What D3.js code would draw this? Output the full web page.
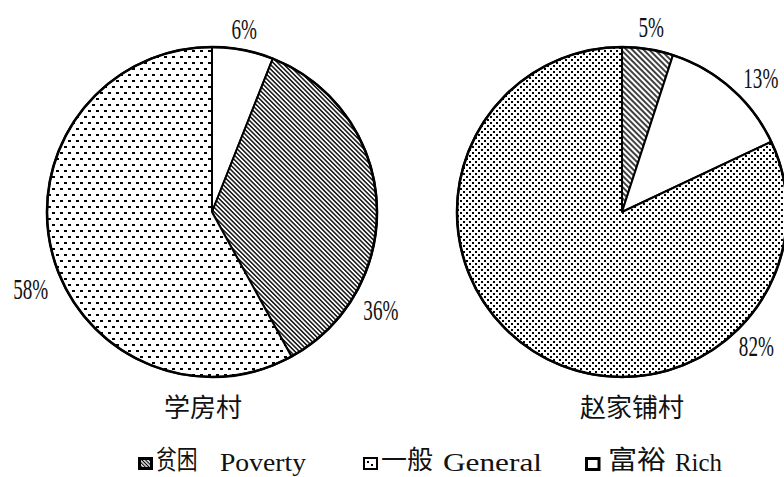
<!DOCTYPE html>
<html>
<head>
<meta charset="utf-8">
<script src="https://cdn.jsdelivr.net/npm/d3@7/dist/d3.min.js"></script>
<style>
  html, body { margin: 0; padding: 0; background: #fff; }
  svg { display: block; }
</style>
</head>
<body>
<svg id="chart" width="784" height="477"></svg>
<script>
// data
const villages = ["学房村", "赵家铺村"];
const categories = ["Poverty", "General", "Rich"];
const categoriesCN = ["贫困", "一般", "富裕"];
// slice order clockwise from 12 o'clock, per village
const xuefangOrder = ["Rich", "Poverty", "General"];
const xuefangValues = [6, 36, 58];
const zhaojiapuOrder = ["Poverty", "Rich", "General"];
const zhaojiapuValues = [5, 13, 82];

// layout
const W = 784, H = 477;
const R = 165;
const centers = [[212, 212], [622, 212]];
// label placement: [angle deg from top, distance from centre]
const labelSpots = [
  [[10, 186], [120, 195], [247, 197]],
  [[9, 187], [46, 193], [135, 190]]
];
const titleY = 417;

const svg = d3.select("#chart");
const defs = svg.append("defs");

// hatch pattern "\" for Poverty
function addHatch(id, gap, sw) {
  const p = defs.append("pattern")
    .attr("id", id)
    .attr("patternUnits", "userSpaceOnUse")
    .attr("width", gap).attr("height", gap)
    .attr("patternTransform", "rotate(-45)");
  p.append("rect").attr("width", gap).attr("height", gap).attr("fill", "#fff");
  p.append("line")
    .attr("x1", gap / 2).attr("y1", -1)
    .attr("x2", gap / 2).attr("y2", gap + 1)
    .attr("stroke", "#000").attr("stroke-width", sw);
}
// staggered dot pattern for General
function addDots(id, w, h, dw, dh) {
  const p = defs.append("pattern")
    .attr("id", id)
    .attr("patternUnits", "userSpaceOnUse")
    .attr("width", w).attr("height", h);
  p.append("rect").attr("width", w).attr("height", h).attr("fill", "#fff");
  p.append("rect").attr("x", 0).attr("y", 0).attr("width", dw).attr("height", dh).attr("fill", "#000");
  p.append("rect").attr("x", w / 2).attr("y", h / 2).attr("width", dw).attr("height", dh).attr("fill", "#000");
}
addHatch("hatch0", 3.2, 1.4);
addHatch("hatch1", 4, 1.5);
addDots("dots0", 8, 12, 3, 2);
addDots("dots1", 6, 6, 2, 2);
addHatch("hatchS", 2.6, 1.2);

const fills = [
  { Poverty: "url(#hatch0)", General: "url(#dots0)", Rich: "#fff" },
  { Poverty: "url(#hatch1)", General: "url(#dots1)", Rich: "#fff" }
];

const pieData = [
  xuefangOrder.map((c, i) => ({ cat: c, value: xuefangValues[i] })),
  zhaojiapuOrder.map((c, i) => ({ cat: c, value: zhaojiapuValues[i] }))
];

const pie = d3.pie().sort(null).value(d => d.value);
const arc = d3.arc().innerRadius(0).outerRadius(R);

pieData.forEach((rows, k) => {
  const g = svg.append("g").attr("transform", `translate(${centers[k][0]},${centers[k][1]})`);
  const arcs = pie(rows);

  g.selectAll("path.slice")
    .data(arcs)
    .join("path")
    .attr("class", "slice")
    .attr("d", arc)
    .attr("fill", d => fills[k][d.data.cat])
    .attr("stroke", "#000")
    .attr("stroke-width", 2)
    .attr("stroke-linejoin", "round");

  g.append("circle")
    .attr("r", R)
    .attr("fill", "none")
    .attr("stroke", "#000")
    .attr("stroke-width", 2.6);

  // percentage labels
  g.selectAll("g.pct")
    .data(arcs)
    .join("g")
    .attr("class", "pct")
    .attr("transform", (d, i) => {
      const [deg, dist] = labelSpots[k][i];
      const a = deg * Math.PI / 180;
      return `translate(${dist * Math.sin(a)},${-dist * Math.cos(a)}) scale(0.66,1)`;
    })
    .append("text")
    .attr("text-anchor", "middle")
    .attr("dominant-baseline", "central")
    .attr("font-family", "'Liberation Serif', 'DejaVu Serif', serif")
    .attr("font-size", 29)
    .attr("fill", "#111")
    .text(d => d.data.value + "%");

  // village name
  svg.append("text")
    .attr("x", k === 0 ? 203 : 632)
    .attr("y", titleY)
    .attr("text-anchor", "middle")
    .attr("font-family", "'Noto Sans CJK SC', sans-serif")
    .attr("font-size", 26)
    .attr("fill", "#111")
    .text(villages[k]);
});

// legend
const legendItems = [
  { cat: "Poverty", sx: 138, cnX: 156, cnS: 0.8, enX: 220, enW: 86 },
  { cat: "General", sx: 363, cnX: 381, cnS: 1.0, enX: 443, enW: 99 },
  { cat: "Rich",    sx: 585, cnX: 608, cnS: 1.12, enX: 675, enW: 47 }
];
const legY = 471;
const lg = svg.append("g");
legendItems.forEach(it => {
  const i = categories.indexOf(it.cat);
  if (it.cat === "Poverty") {
    lg.append("rect").attr("x", it.sx).attr("y", 457).attr("width", 15).attr("height", 13)
      .attr("fill", "#000");
    lg.append("rect").attr("x", it.sx + 3).attr("y", 460).attr("width", 9).attr("height", 7)
      .attr("fill", "url(#hatchS)");
  } else if (it.cat === "General") {
    lg.append("rect").attr("x", it.sx + 1).attr("y", 458).attr("width", 13).attr("height", 11)
      .attr("fill", "#fff").attr("stroke", "#000").attr("stroke-width", 2);
    lg.append("rect").attr("x", it.sx + 4).attr("y", 461).attr("width", 2).attr("height", 2).attr("fill", "#000");
    lg.append("rect").attr("x", it.sx + 8).attr("y", 464).attr("width", 2).attr("height", 2).attr("fill", "#000");
  } else {
    lg.append("rect").attr("x", it.sx + 1.5).attr("y", 458.5).attr("width", 12.5).attr("height", 11)
      .attr("fill", "#fff").attr("stroke", "#000").attr("stroke-width", 3);
  }
  lg.append("g")
    .attr("transform", `translate(${it.cnX},${legY - 2}) scale(${it.cnS},1)`)
    .append("text")
    .attr("font-family", "'Noto Sans CJK SC', sans-serif")
    .attr("font-size", 26)
    .attr("fill", "#111")
    .text(categoriesCN[i]);
  lg.append("text")
    .attr("x", it.enX).attr("y", legY)
    .attr("textLength", it.enW).attr("lengthAdjust", "spacingAndGlyphs")
    .attr("font-family", "'Liberation Serif', serif")
    .attr("font-size", 26)
    .attr("fill", "#111")
    .text(it.cat);
});
</script>
</body>
</html>
